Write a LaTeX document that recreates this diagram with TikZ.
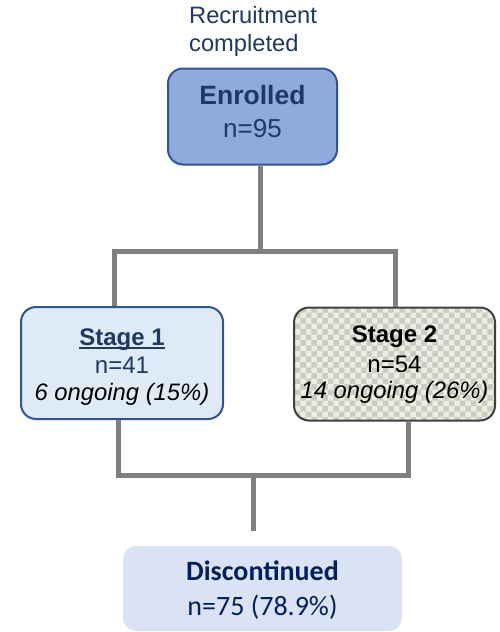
\documentclass[tikz,border=0pt]{standalone}
\usepackage{fontspec}
\setmainfont{Liberation Sans}
\newfontfamily\calfont{Carlito}
\usetikzlibrary{patterns}
\definecolor{navy}{HTML}{1F3864}
\definecolor{dnavy}{HTML}{002060}
\definecolor{bordblue}{HTML}{2F5597}
\definecolor{enrfill}{HTML}{8FAADC}
\definecolor{s1fill}{HTML}{DEEBF7}
\definecolor{s2light}{HTML}{EBEDE6}
\definecolor{s2dark}{HTML}{C8CEBB}
\definecolor{s2bord}{HTML}{404040}
\definecolor{disfill}{HTML}{DAE3F3}
\definecolor{conncol}{HTML}{808080}
\newlength\ulw
\newcommand\myul[1]{\settowidth\ulw{#1}\rlap{\rule[-3.5pt]{\ulw}{1.6pt}}#1}
\tikzset{
  box/.style={rounded corners=15pt, inner sep=0pt, line width=2pt},
  txt/.style={anchor=base, inner sep=0pt},
  conn/.style={draw=conncol, line width=5pt, line join=miter}
}
\begin{document}
\begin{tikzpicture}[x=1pt,y=-1pt]
\useasboundingbox (0,0) rectangle (499,632);
% title
\node[txt, anchor=base west, text=navy, font=\fontsize{23.7}{28}\selectfont] (rec1) at (189,23) {Recruitment};
\node[txt, anchor=base west, text=navy, font=\fontsize{23.7}{28}\selectfont] (rec2) at (189,51) {completed};
% boxes
\node[box, draw=bordblue, fill=enrfill, minimum width=169pt, minimum height=96pt] (enr) at (252.5,116.5) {};
\node[box, draw=bordblue, fill=s1fill, minimum width=202pt, minimum height=112pt] (s1) at (122,363) {};
\node[box, draw=s2bord, preaction={fill=s2light}, pattern=checkerboard, pattern color=s2dark,
      minimum width=201pt, minimum height=113pt] (s2) at (394.5,364) {};
\node[box, rounded corners=13pt, fill=disfill, minimum width=279pt, minimum height=85pt] (dis) at (262.5,588.5) {};
% texts
\node[txt, text=navy, font=\fontsize{26.5}{30}\selectfont\bfseries] (enrA) at (252.5,104) {Enrolled};
\node[txt, text=navy, font=\fontsize{26}{30}\selectfont] (enrB) at (252.5,137) {n=95};
\node[txt, text=navy, font=\fontsize{24}{28}\selectfont\bfseries] (s1A) at (122,345) {\myul{Stage 1}};
\node[txt, text=navy, font=\fontsize{24}{28}\selectfont] (s1B) at (122,373) {n=41};
\node[txt, font=\fontsize{23.8}{28}\selectfont\itshape] (s1C) at (122,400) {6 ongoing (15\%)};
\node[txt, font=\fontsize{24}{28}\selectfont\bfseries] (s2A) at (394.5,342) {Stage 2};
\node[txt, font=\fontsize{24}{28}\selectfont] (s2B) at (394.5,372) {n=54};
\node[txt, font=\fontsize{23.8}{28}\selectfont\itshape] (s2C) at (394.5,398) {14 ongoing (26\%)};
\node[txt, text=dnavy, font=\calfont\fontsize{28}{32}\selectfont\bfseries] (disA) at (262.5,580) {Discontinued};
\node[txt, text=dnavy, font=\calfont\fontsize{28}{32}\selectfont] (disB) at (262.5,615) {n=75 (78.9\%)};
% connectors
\coordinate (tm) at (260.5,251.5);
\coordinate (tl) at (114,251.5);
\coordinate (tr) at (395,251.5);
\coordinate (bl) at (118,475.5);
\coordinate (br) at (408,475.5);
\coordinate (bm) at (253,475.5);
\coordinate (dend) at (253,531);
\draw[conn] (enr.south -| tm) -- (tm);
\draw[conn] (s1.north -| tl) -- (tl) -- (tr) -- (s2.north -| tr);
\draw[conn] (s1.south -| bl) -- (bl) -- (br) -- (s2.south -| br);
\draw[conn] (bm) -- (dend);
\end{tikzpicture}
\end{document}
